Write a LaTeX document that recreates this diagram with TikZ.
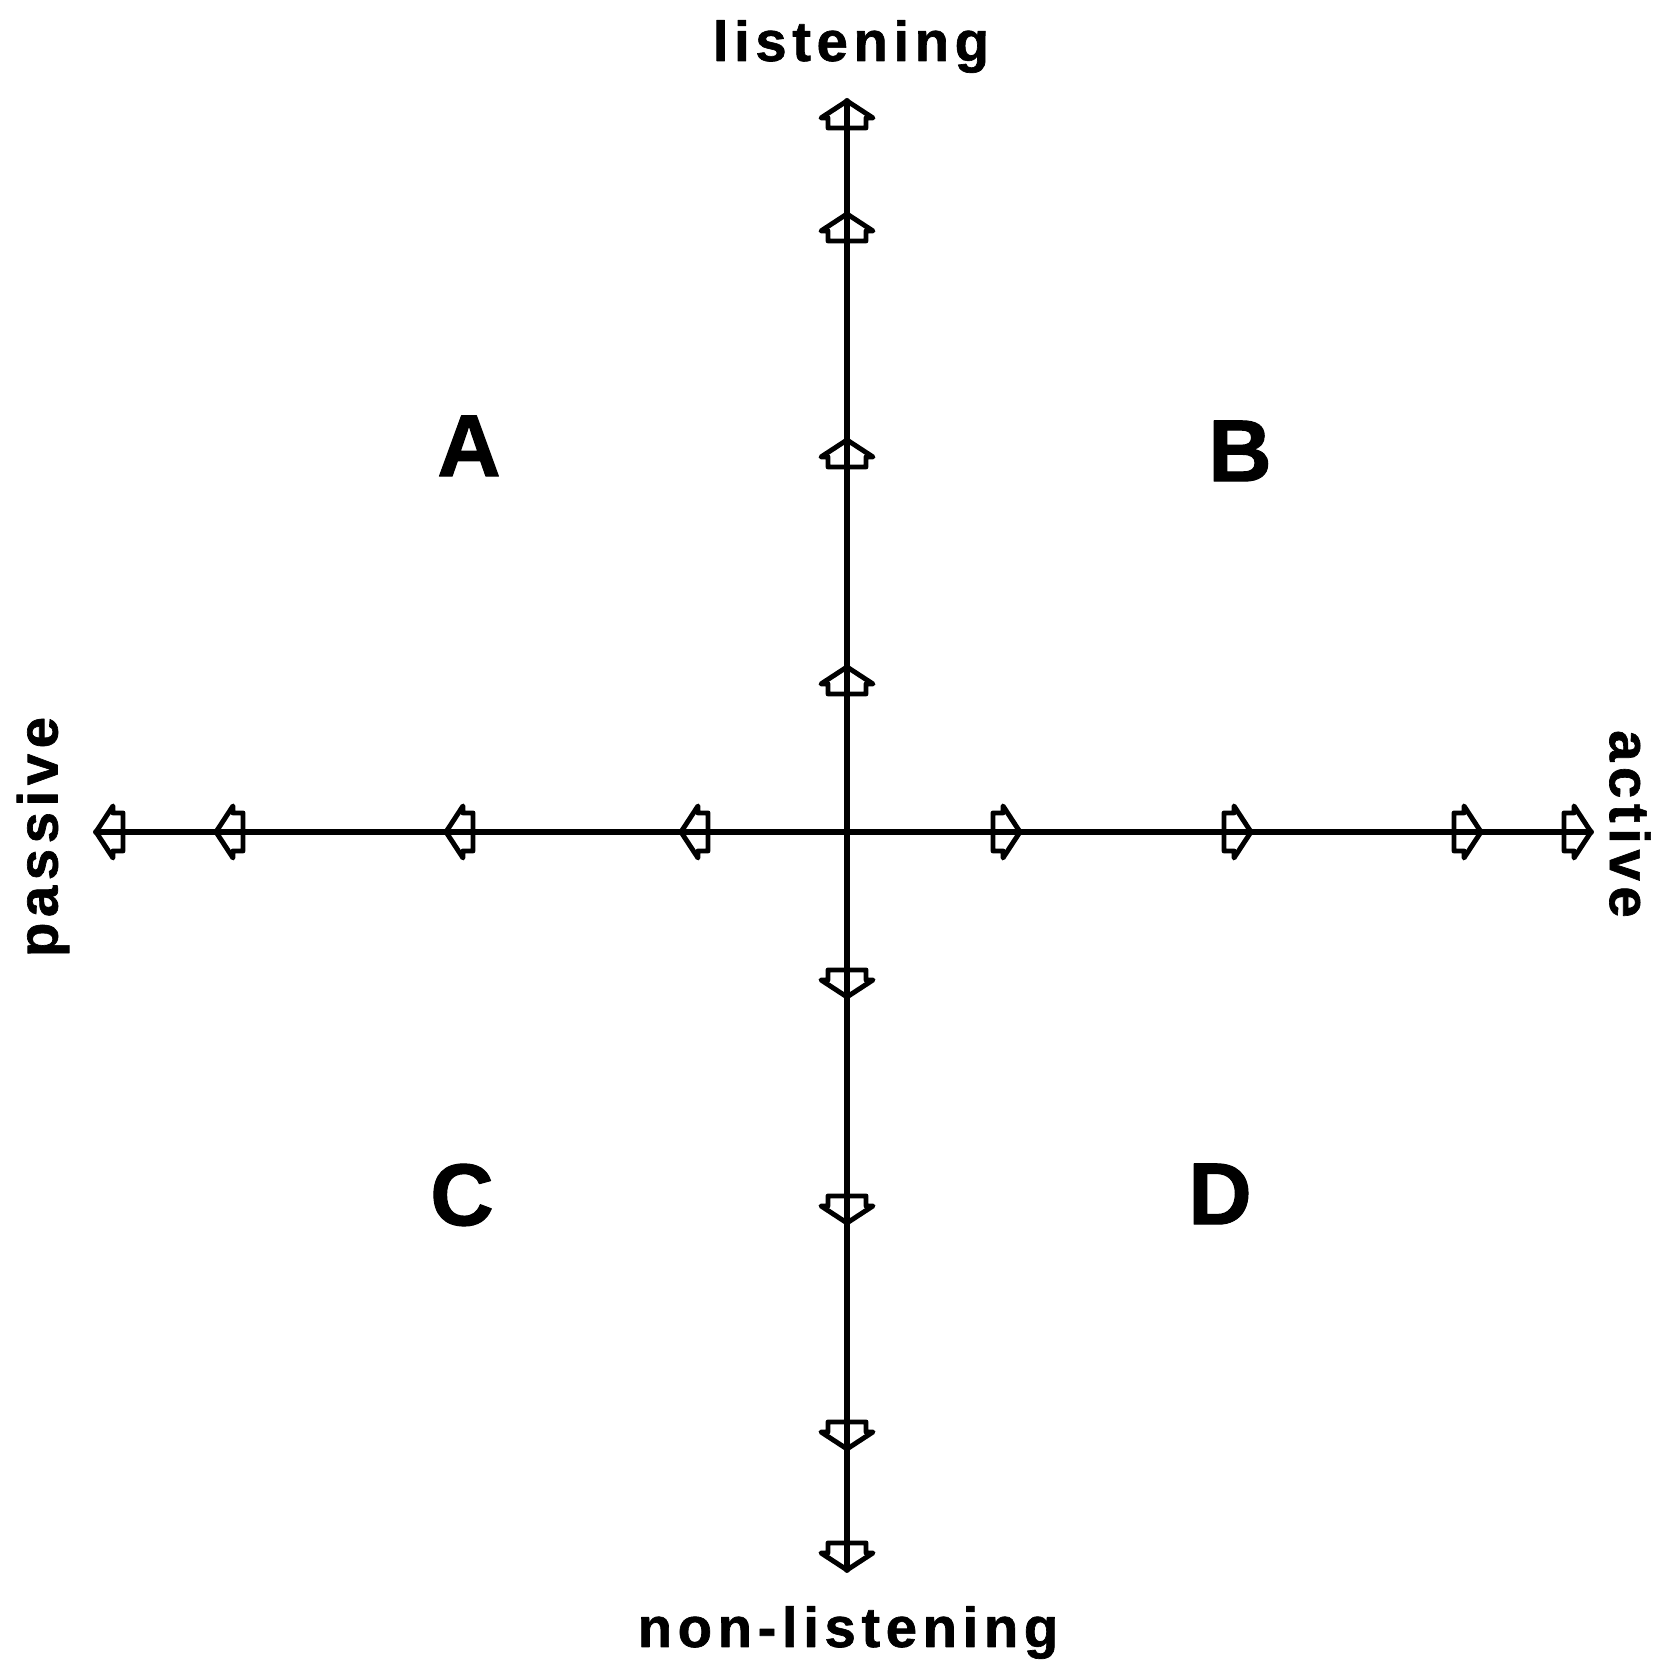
\documentclass[tikz,border=0pt]{standalone}
\usepackage{fontspec}
\setmainfont{Liberation Sans}
\newfontfamily\labelfont[LetterSpace=10,BoldFeatures={FakeBold=1.2}]{Liberation Sans}
\newfontfamily\quadfont[BoldFeatures={FakeBold=1.2}]{Liberation Sans}

\begin{document}
\begin{tikzpicture}[
    line cap=round,
    line join=round,
    axis/.style={line width=1.7pt},
    axislabel/.style={font=\labelfont\bfseries\fontsize{16}{19}\selectfont},
    quadrant/.style={font=\quadfont\bfseries\fontsize{25}{30}\selectfont},
    tipmark/.pic={
        \draw[line width=1.4pt]
        (0,0) -- (-0.17,0.26) -- (-0.17,0.19) -- (-0.27,0.19)
        -- (-0.27,-0.19) -- (-0.17,-0.19) -- (-0.17,-0.26) -- cycle;
    }
]

\useasboundingbox (0,0) rectangle (16.67,16.61);

\begin{scope}[shift={(8.47,8.29)}]

% -----------------------------
% Axes
% -----------------------------
\coordinate (ctr) at (0,0);
\coordinate (lsnend) at (0,7.31);
\coordinate (nlsend) at (0,-7.38);
\coordinate (pasend) at (-7.51,0);
\coordinate (actend) at (7.44,0);

\draw[axis] (pasend) -- (actend);
\draw[axis] (nlsend) -- (lsnend);

% -----------------------------
% Arrow marks along the axes
% -----------------------------
\pic[rotate=90] at (0,1.65) {tipmark};
\pic[rotate=90] at (0,3.92) {tipmark};
\pic[rotate=90] at (0,6.18) {tipmark};
\pic[rotate=90] at (lsnend) {tipmark};

\pic[rotate=-90] at (0,-1.65) {tipmark};
\pic[rotate=-90] at (0,-3.91) {tipmark};
\pic[rotate=-90] at (0,-6.17) {tipmark};
\pic[rotate=-90] at (nlsend) {tipmark};

\pic[rotate=180] at (-1.66,0) {tipmark};
\pic[rotate=180] at (-4.01,0) {tipmark};
\pic[rotate=180] at (-6.31,0) {tipmark};
\pic[rotate=180] at (pasend) {tipmark};

\pic at (1.73,0) {tipmark};
\pic at (4.04,0) {tipmark};
\pic at (6.34,0) {tipmark};
\pic at (actend) {tipmark};

% -----------------------------
% Axis labels
% -----------------------------
\node[axislabel, anchor=base] (listen) at (0.04,7.71) {listening};
\node[axislabel, anchor=base] (nonlisten) at (0.01,-8.15) {non-listening};
\node[axislabel, rotate=90] (passive) at (-8.04,-0.05) {passive};
\node[axislabel, rotate=-90] (active) at (7.83,0.08) {active};

% -----------------------------
% Quadrants
% -----------------------------
\node[quadrant] (qa) at (-3.78,3.86) {A};
\node[quadrant] (qb) at (3.93,3.81) {B};
\node[quadrant] (qc) at (-3.85,-3.63) {C};
\node[quadrant] (qd) at (3.73,-3.62) {D};

\end{scope}

\end{tikzpicture}
\end{document}
